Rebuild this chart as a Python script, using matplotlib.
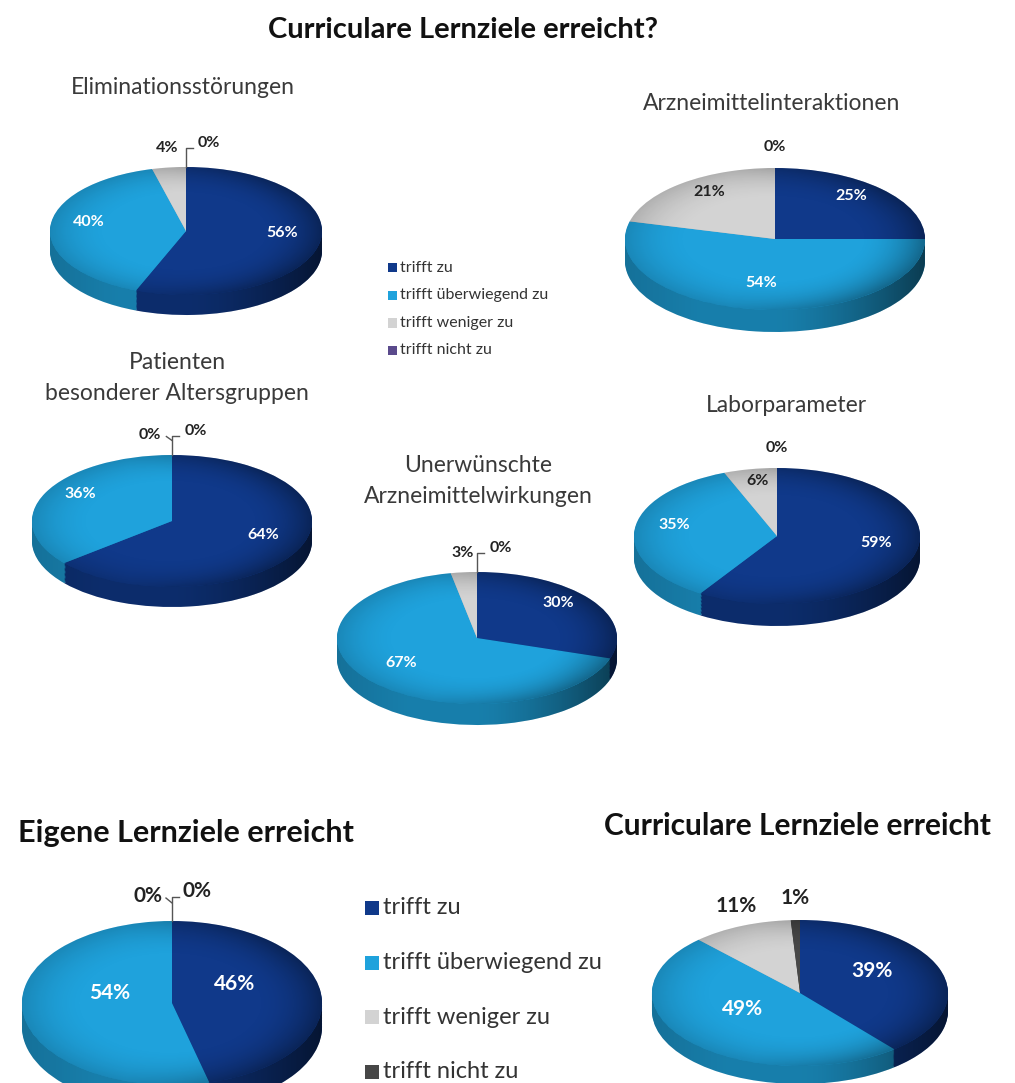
import numpy as np
import matplotlib
matplotlib.use('Agg')
import matplotlib.pyplot as plt
from matplotlib.patches import Circle, Rectangle, PathPatch
from matplotlib.path import Path

plt.rcParams['font.family'] = ['Lato', 'DejaVu Sans']

# Daten
kategorien = ['trifft zu', 'trifft überwiegend zu', 'trifft weniger zu', 'trifft nicht zu']
elimination = [56, 40, 4, 0]
arzneimittel = [25, 54, 21, 0]
patienten = [64, 36, 0, 0]
uaw = [30, 67, 3, 0]
labor = [59, 35, 6, 0]
eigene = [46, 54, 0, 0]
curricular = [39, 49, 11, 1]

farben_oben = ['#10398a', '#1fa2dc', '#d3d3d3', '#5a4a8c']
farben_unten = ['#10398a', '#1fa2dc', '#d3d3d3', '#474747']

W, H = 1015, 1083
fig = plt.figure(figsize=(W / 100, H / 100), dpi=100)


def dunkler(c, f):
    r, g, b = matplotlib.colors.to_rgb(c)
    return (r * f, g * f, b * f)


def pie3d(cx, cy, rx, ry, dicke, werte, farben, aussen, fs=11.5, r_in=0.72, dy_in=0.1):
    t = dicke / ry
    ax = fig.add_axes([(cx - rx) / W, 1 - (cy + ry + dicke) / H, 2 * rx / W, (2 * ry + dicke) / H])
    # seitenflaeche in schichten
    n = 16
    for k in range(n):
        off = -t * (1 - k / n)
        ax.pie(werte, colors=[dunkler(c, 0.82) for c in farben], startangle=90, counterclock=False,
               center=(0, off), normalize=True, wedgeprops=dict(linewidth=0, zorder=1))
    # schatten an der seite
    a = np.linspace(np.pi, 2 * np.pi, 100)
    verts = np.concatenate([np.c_[np.cos(a), np.sin(a)], np.c_[np.cos(a[::-1]), np.sin(a[::-1]) - t]])
    seite = PathPatch(Path(verts), transform=ax.transData, facecolor='none', edgecolor='none')
    ax.add_patch(seite)
    xx = np.linspace(-1, 1, 200)
    alpha = 0.05 + 0.5 * np.clip(xx, 0, 1) ** 1.5 + 0.2 * np.clip(-xx - 0.5, 0, 1)
    img = np.zeros((2, 200, 4))
    img[..., 3] = alpha
    im = ax.imshow(img, extent=(-1, 1, -1 - t, 0), aspect='auto', zorder=2, interpolation='bilinear')
    im.set_clip_path(seite)
    # deckel
    ax.pie(werte, colors=farben, startangle=90, counterclock=False, normalize=True,
           wedgeprops=dict(linewidth=0, zorder=3))
    gx, gy = np.meshgrid(np.linspace(-1, 1, 200), np.linspace(1, -1, 200))
    rr = np.hypot(gx, gy)
    img2 = np.zeros((200, 200, 4))
    img2[..., 3] = 0.36 * np.clip((rr - 0.55) / 0.45, 0, 1) ** 2 * (0.45 + 0.55 * np.clip(gx + 0.3, 0, 1))
    im2 = ax.imshow(img2, extent=(-1, 1, -1, 1), aspect='auto', zorder=4, interpolation='bilinear')
    deckel = Circle((0, 0), 1, transform=ax.transData, facecolor='none', edgecolor='none')
    ax.add_patch(deckel)
    im2.set_clip_path(deckel)

    # beschriftung
    summe = float(sum(werte))
    start = 90.0
    for i, v in enumerate(werte):
        breite = 360 * v / summe
        mitte = np.radians(start - breite / 2)
        start -= breite
        txt = '%d%%' % v
        if not aussen[i]:
            x, y = r_in * np.cos(mitte), r_in * np.sin(mitte) + dy_in
            ax.text(x, y, txt, color='white' if i < 2 else '#222222', ha='center', va='center',
                    fontsize=fs, fontweight='bold', zorder=6)
            continue
        x, y = 1.08 * np.cos(mitte), 1.3 * np.sin(mitte)
        if v == 0 and i == 3 and aussen[2]:
            x, y = x + 0.17, y + 0.07
            ax.plot([0, 0, x - 0.12], [1.0, y - 0.08, y - 0.08], color='#555555', lw=1, zorder=5, clip_on=False)
        elif v == 0 and i == 2:
            x, y = x - 0.16, y + 0.0
            ax.plot([0, x + 0.12], [y - 0.08, y - 0.02], color='#555555', lw=1, zorder=5, clip_on=False)
        ax.text(x, y, txt, color='#222222', ha='center', va='center', fontsize=fs, fontweight='bold',
                zorder=6, clip_on=False)
    ax.set_xlim(-1, 1)
    ax.set_ylim(-1 - t, 1)
    ax.set_aspect('auto')
    ax.axis('off')
    return ax


def titel(x, y, s, fs=16.5, fw='normal', farbe='#3a3a3a', ha='center'):
    fig.text(x / W, 1 - y / H, s, fontsize=fs, fontweight=fw, color=farbe, ha=ha, va='center',
             linespacing=1.55)


def legende(x, y0, schritt, farben, fs, gross):
    for i, lab in enumerate(kategorien):
        y = y0 + i * schritt
        fig.patches.append(Rectangle(((x - gross / 2) / W, 1 - (y + gross / 2) / H), gross / W, gross / H,
                                     transform=fig.transFigure, facecolor=farben[i], edgecolor='none'))
        fig.text((x + gross / 2 + 4) / W, 1 - y / H, lab, fontsize=fs, color='#333333', va='center')


titel(463, 30, 'Curriculare Lernziele erreicht?', fs=21, fw='bold', farbe='#111111')

titel(183, 88, 'Eliminationsstörungen')
pie3d(186, 231, 136, 64, 20, elimination, farben_oben, [False, False, True, True])

titel(772, 104, 'Arzneimittelinteraktionen')
pie3d(775, 239, 150, 71, 22, arzneimittel, farben_oben, [False, False, False, True])

titel(177, 378, 'Patienten\nbesonderer Altersgruppen')
pie3d(172, 521, 140, 66, 20, patienten, farben_oben, [False, False, True, True])

titel(478, 481, 'Unerwünschte\nArzneimittelwirkungen')
pie3d(477, 638, 140, 66, 21, uaw, farben_oben, [False, False, True, True])

titel(786, 405, 'Laborparameter')
pie3d(777, 536, 143, 68, 22, labor, farben_oben, [False, False, False, True])

legende(392, 268, 27.5, farben_oben, 11.5, 9)

titel(18, 833, 'Eigene Lernziele erreicht', fs=22, fw='bold', farbe='#111111', ha='left')
pie3d(172, 1003, 150, 82, 24, eigene, farben_unten, [False, False, True, True], fs=15, r_in=0.42, dy_in=0.18)

titel(797, 826, 'Curriculare Lernziele erreicht', fs=21.5, fw='bold', farbe='#111111')
pie3d(800, 993, 148, 73, 18, curricular, farben_unten, [False, False, True, True], fs=15, r_in=0.52, dy_in=0.12)

legende(372, 908, 54.5, farben_unten, 17, 14)

fig.savefig('out.png', dpi=100, facecolor='white')
